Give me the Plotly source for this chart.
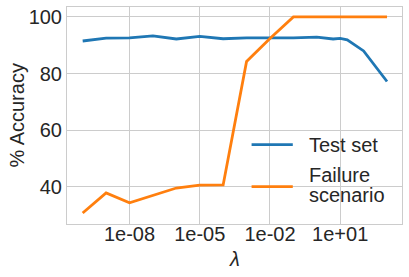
import plotly.graph_objects as go

lambdas = [1e-10, 1e-9, 1e-8, 1e-7, 1e-6, 1e-5, 1e-4, 1e-3, 1e-2, 1e-1, 1e0, 5e0, 1e1, 2e1, 1e2, 1e3]
test_set = [91.5, 92.5, 92.6, 93.3, 92.2, 93.1, 92.3, 92.6, 92.6, 92.6, 92.9, 92.2, 92.4, 91.9, 88.0, 77.2]
failure = [30.8, 37.9, 34.4, 37.0, 39.6, 40.6, 40.7, 84.3, 92.4, 100, 100, 100, 100, 100, 100, 100]
series_names = ["Test set", "Failure scenario"]
x_tickvals = [1e-8, 1e-5, 1e-2, 1e1]
x_ticktext = ["1e-08", "1e-05", "1e-02", "1e+01"]
y_tickvals = [40, 60, 80, 100]

FONT = "Liberation Sans, Arial, sans-serif"
TXT = "#262626"
GRID = "#cccccc"
COLORS = ["#1f77b4", "#ff7f0e"]
FS = 20

fig = go.Figure()
fig.add_trace(go.Scatter(x=lambdas, y=test_set, mode="lines", name=series_names[0],
                         line=dict(color=COLORS[0], width=2.8)))
fig.add_trace(go.Scatter(x=lambdas, y=failure, mode="lines", name=series_names[1],
                         line=dict(color=COLORS[1], width=2.8)))

# legend drawn manually (matplotlib-like compact line spacing)
shapes = [
    dict(type="line", xref="paper", yref="paper", x0=0.551, x1=0.674, y0=0.366, y1=0.366,
         line=dict(color=COLORS[0], width=2.8)),
    dict(type="line", xref="paper", yref="paper", x0=0.551, x1=0.674, y0=0.172, y1=0.172,
         line=dict(color=COLORS[1], width=2.8)),
]
annotations = [
    dict(text="Test set", xref="paper", yref="paper", x=0.716, y=0.364, xanchor="left",
         yanchor="middle", showarrow=False, font=dict(size=FS, color=TXT)),
    dict(text="Failure", xref="paper", yref="paper", x=0.716, y=0.227, xanchor="left",
         yanchor="middle", showarrow=False, font=dict(size=FS, color=TXT)),
    dict(text="scenario", xref="paper", yref="paper", x=0.716, y=0.135, xanchor="left",
         yanchor="middle", showarrow=False, font=dict(size=FS, color=TXT)),
    # axis titles
    dict(text="<i>λ</i>", xref="paper", yref="paper", x=0.5, y=-0.16, xanchor="center",
         yanchor="middle", showarrow=False, font=dict(size=FS, color=TXT)),
    dict(text="% Accuracy", xref="paper", yref="paper", x=-0.152, y=0.5, xanchor="center",
         yanchor="middle", showarrow=False, textangle=-90, font=dict(size=FS, color=TXT)),
]

fig.update_layout(
    width=409, height=277,
    margin=dict(l=67, r=7, t=7, b=53),
    paper_bgcolor="white", plot_bgcolor="white",
    font=dict(family=FONT, color=TXT, size=FS),
    showlegend=False,
    shapes=shapes, annotations=annotations,
    xaxis=dict(type="log", range=[-10.67, 3.64], tickvals=x_tickvals, ticktext=x_ticktext,
               showgrid=True, gridcolor=GRID, gridwidth=1, zeroline=False,
               showline=True, linecolor=GRID, linewidth=1, mirror=True, automargin=False,
               ticks="", ticklabelstandoff=-8, tickfont=dict(size=FS, color=TXT)),
    yaxis=dict(range=[26.9, 103.5], tickvals=y_tickvals,
               showgrid=True, gridcolor=GRID, gridwidth=1, zeroline=False,
               showline=True, linecolor=GRID, linewidth=1, mirror=True, automargin=False,
               ticks="", tickfont=dict(size=FS, color=TXT)),
)

fig.write_html("out.html", config={"displayModeBar": False},
               post_script="document.body.style.margin='0';")
